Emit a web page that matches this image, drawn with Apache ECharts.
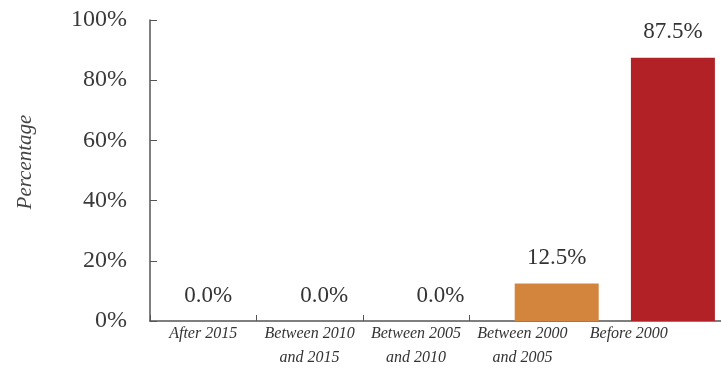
<!DOCTYPE html>
<html>
<head>
<meta charset="utf-8">
<script src="https://cdn.jsdelivr.net/npm/echarts@6/dist/echarts.min.js"></script>
<style>html,body{margin:0;padding:0;background:#fff}#c{width:721px;height:374px}</style>
</head>
<body>
<div id="c"></div>
<script>
const categories = ['After 2015', 'Between 2010\nand 2015', 'Between 2005\nand 2010', 'Between 2000\nand 2005', 'Before 2000'];
const values = [0.0, 0.0, 0.0, 12.5, 87.5];
const yAxisTitle = 'Percentage';
const barColors = ['#d4853d', '#d4853d', '#d4853d', '#d4853d', '#b12126'];

const serif = '"Liberation Serif", "DejaVu Serif", serif';
const chart = echarts.init(document.getElementById('c'));
chart.setOption({
  animation: false,
  backgroundColor: '#fff',
  graphic: [{
    type: 'text', x: 25, y: 162, rotation: Math.PI / 2,
    style: {
      text: yAxisTitle, fontFamily: serif, fontStyle: 'italic', fontSize: 21,
      fill: '#444', align: 'center', verticalAlign: 'middle'
    }
  }],
  grid: [
    { left: 150, top: 20, width: 581, bottom: 53, outerBoundsMode: 'none', containLabel: false },
    { left: 150, top: 20, width: 532, bottom: 53, outerBoundsMode: 'none', containLabel: false }
  ],
  xAxis: [
    {
      type: 'category', gridIndex: 0, data: categories,
      axisLine: { show: true, lineStyle: { color: '#555', width: 1.5 } },
      axisTick: { show: false },
      axisLabel: { show: false }
    },
    {
      type: 'category', gridIndex: 1, data: categories,
      axisLine: { show: false },
      axisTick: { show: true, inside: true, length: 6, lineStyle: { color: '#555' } },
      axisLabel: {
        show: true, interval: 0, margin: 1,
        fontFamily: serif, fontStyle: 'italic', fontSize: 16, lineHeight: 24, color: '#333'
      }
    }
  ],
  yAxis: [
    {
      type: 'value', gridIndex: 0, min: 0, max: 100, interval: 20,
      axisLine: { show: true, lineStyle: { color: '#555', width: 1.5 } },
      axisTick: { show: true, inside: true, length: 7, lineStyle: { color: '#555' } },
      splitLine: { show: false },
      axisLabel: { formatter: '{value}%', margin: 23, fontFamily: serif, fontSize: 24, color: '#3a3a3a' }
    },
    { type: 'value', gridIndex: 1, min: 0, max: 100, show: false }
  ],
  series: [{
    type: 'bar', xAxisIndex: 0, yAxisIndex: 0,
    data: values.map((v, i) => ({ value: v, itemStyle: { color: barColors[i] } })),
    barWidth: 84,
    label: {
      show: true, position: 'top', distance: 14,
      formatter: p => p.value.toFixed(1) + '%',
      fontFamily: serif, fontSize: 23, color: '#333'
    }
  }]
});
</script>
</body>
</html>
